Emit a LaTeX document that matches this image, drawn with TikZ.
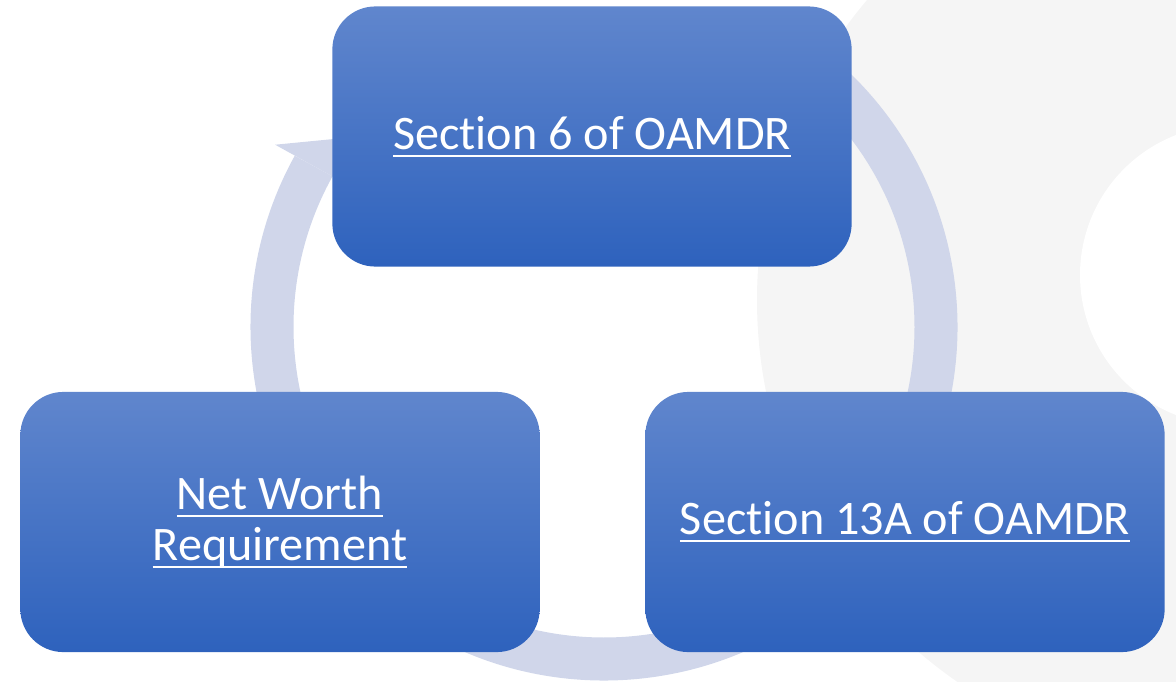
\documentclass[tikz,border=0pt]{standalone}
\usepackage{fontspec}
\setmainfont[Ligatures=NoCommon]{Carlito}
\newcommand{\undline}[1]{\setbox0\hbox{#1}\rlap{\rule[-2.2pt]{\wd0}{0.6pt}}\box0}
\usetikzlibrary{calc}

\definecolor{boxtop}{RGB}{96,134,205}
\definecolor{boxbottom}{RGB}{46,98,189}
\definecolor{ringblue}{RGB}{208,214,234}
\definecolor{backgray}{RGB}{245,245,245}

\begin{document}
\begin{tikzpicture}[x=0.01cm,y=0.01cm,
  stagebox/.style={rounded corners=0.43cm,top color=boxtop,bottom color=boxbottom,
    minimum width=5.19cm,minimum height=2.6cm,text=white,align=center,
    font=\fontsize{13.7}{14.5}\selectfont}]
\useasboundingbox (0,0) rectangle (1176,681);
\clip (0,0) rectangle (1176,681);
\fill[backgray] (1221,381) circle[radius=464];
\fill[white] (1230,406) circle[radius=150];
\coordinate (M) at (604,354);
% cycle ring and its head
\draw[ringblue,line width=0.43cm] ($(M)+(47:332)$) arc[start angle=47,end angle=-209,radius=332];
\fill[ringblue] ($(M)+(151:376)$) -- (375,546) -- ($(M)+(151:288)$) -- cycle;
\node[stagebox] (sec6) at (592,544.5) {\undline{Section 6 of OAMDR}};
\node[stagebox] (netw) at (280,159) {\undline{Net Worth}\\\undline{Requirement}};
\node[stagebox] (sec13) at (905,159) {\undline{Section 13A of OAMDR}};
\end{tikzpicture}
\end{document}
